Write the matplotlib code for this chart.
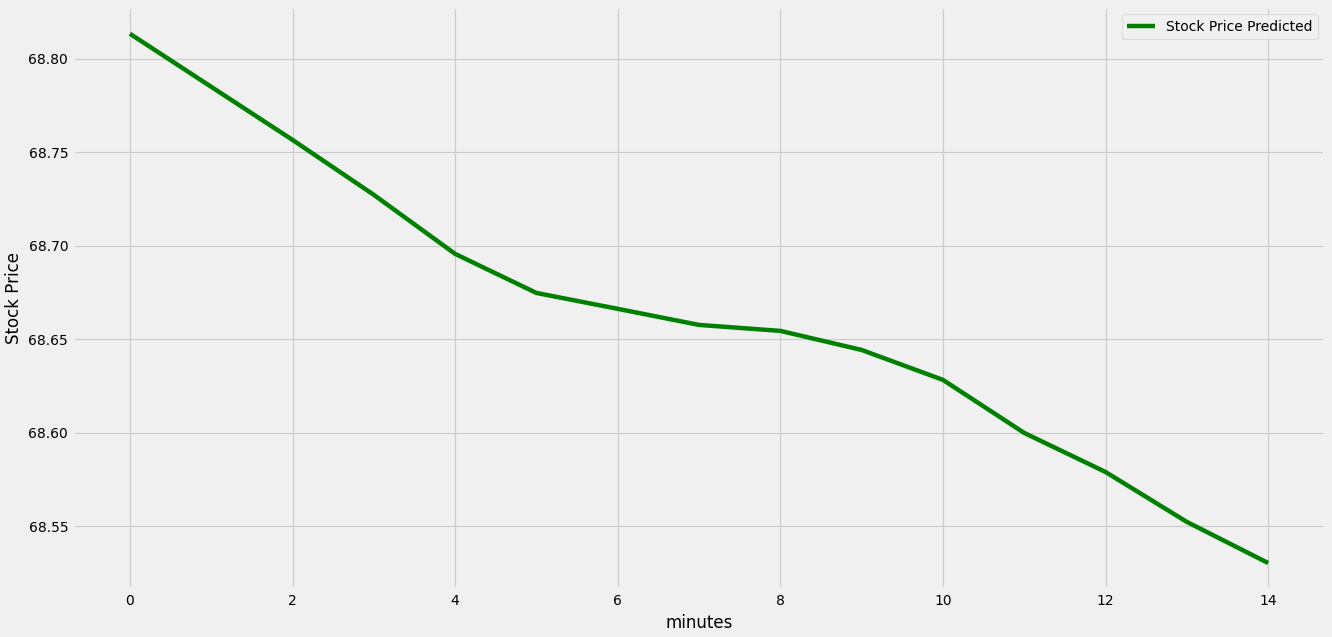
import matplotlib
matplotlib.use("Agg")
import matplotlib.pyplot as plt

plt.style.use("fivethirtyeight")

minutes = list(range(15))
predicted = [68.8134, 68.7850, 68.7566, 68.7272, 68.6956, 68.6747, 68.6662,
             68.6576, 68.6544, 68.6442, 68.6282, 68.5998, 68.5789, 68.5522,
             68.5302]

fig = plt.figure(figsize=(13.32, 6.37), dpi=100)
ax = fig.add_axes([0.0548, 0.0746, 0.940, 0.914])
ax.plot(minutes, predicted, color="green", label="Stock Price Predicted", linewidth=3.2)
ax.grid(True, linewidth=0.8)
ax.set_xlabel("minutes", fontsize=12)
ax.set_ylabel("Stock Price", fontsize=12)
ax.tick_params(labelsize=10)
ax.legend(fontsize=10, loc="upper right")
fig.savefig("out.png", dpi=100)
